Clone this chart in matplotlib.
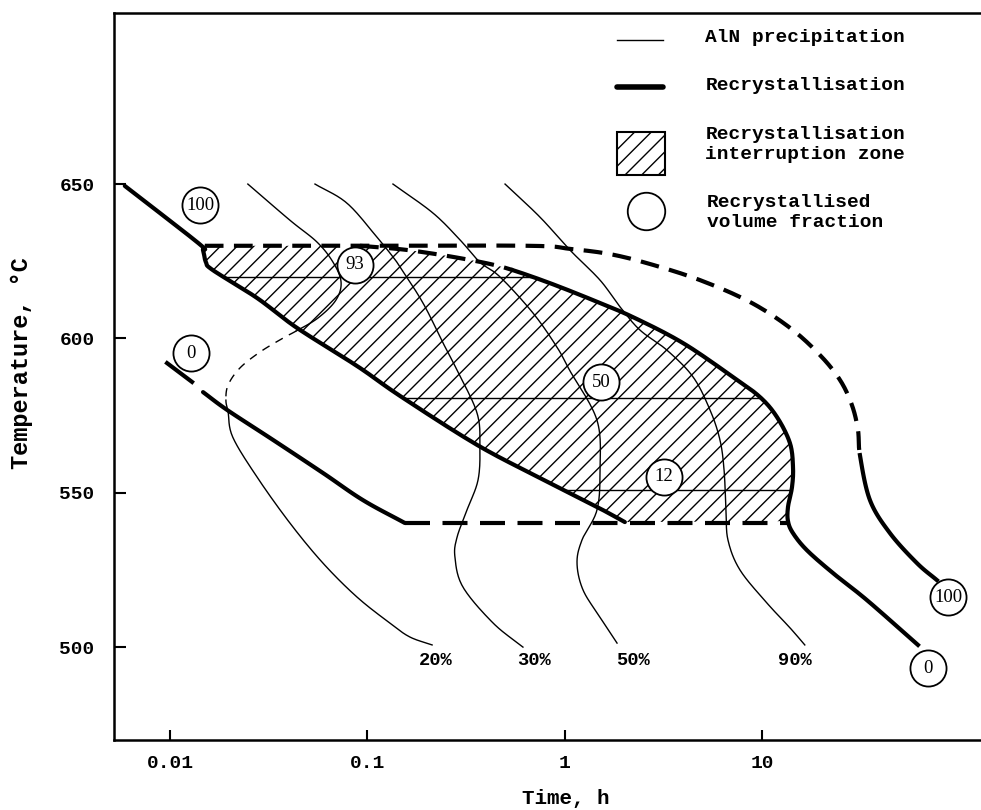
import numpy as np
import matplotlib
matplotlib.use('Agg')
import matplotlib.pyplot as plt
from matplotlib.patches import Polygon, Rectangle

plt.rcParams['hatch.linewidth'] = 1.0
plt.rcParams['font.family'] = ['Liberation Mono', 'DejaVu Sans Mono']
plt.rcParams['font.weight'] = 'bold'

# recrystallisation, upper-left solid line (100 %) down to the 540 C isotherm
rx_upper_t = [0.0059, 0.0139, 0.0147, 0.0152, 0.0165, 0.0276, 0.044, 0.089, 0.147, 0.36, 0.75, 1.46, 2.02]
rx_upper_T = [649.4, 630.9, 628.6, 624.7, 622.1, 613.1, 603.4, 591.0, 581.3, 565.5, 554.8, 545.4, 540.5]

# recrystallisation start (0 %), lower-left
rx_start_dash_t = [0.00966, 0.01293]
rx_start_dash_T = [592.0, 585.9]
rx_start_t = [0.0147, 0.0195, 0.0333, 0.0596, 0.0951, 0.155]
rx_start_T = [582.6, 576.8, 567.1, 556.4, 547.6, 540.2]

# 540 C isotherm (dashed)
iso540_t = [0.155, 13.56]
iso540_T = [540.2, 540.2]

# outer 100 % curve: 630 C dashed part, then solid tail
outer_dash_t = [0.0150, 0.1, 0.668, 1.065, 1.70, 2.71, 4.85, 8.70, 13.9, 19.7, 24.9, 28.6, 30.7, 31.4]
outer_dash_T = [630, 630, 630, 629.0, 627.3, 624.1, 618.9, 611.8, 603.4, 594.6, 586.5, 578.4, 570.3, 562.2]
outer_solid_t = [31.4, 35.3, 44.6, 61.1, 77.1]
outer_solid_T = [562.2, 547.6, 536.9, 527.2, 521.7]

# dashed branch leaving the 630 C line
branch_t = [0.0918, 0.1466, 0.208, 0.295, 0.419, 0.547]
branch_T = [630, 628.9, 627.6, 626.0, 624.1, 622.1]

# upper boundary of the interruption zone, then tail down to 0 %
bound_t = [0.547, 0.843, 1.393, 2.22, 3.98, 7.13, 9.78, 11.93, 13.87, 14.38, 14.21, 13.56, 13.56]
bound_T = [622.1, 617.9, 612.4, 606.9, 598.5, 587.5, 581.0, 574.5, 566.1, 558.3, 551.8, 545.4, 540.8]
tail_t = [13.56, 14.38, 16.9, 22.9, 34.1, 61.8]
tail_T = [540.8, 536.9, 531.4, 524.0, 515.2, 500.7]

# AlN precipitation curves
aln20_top_t = [0.0248, 0.0405, 0.0556, 0.0670, 0.0736, 0.0693, 0.0562, 0.0436]
aln20_top_T = [650, 638.3, 631.2, 624.7, 618.3, 612.4, 606.6, 602.4]
aln20_mid_t = [0.0436, 0.0374, 0.0286, 0.0226, 0.0197, 0.0192]
aln20_mid_T = [602.4, 600.1, 595.6, 590.4, 584.9, 580.0]
aln20_low_t = [0.0192, 0.0197, 0.0208, 0.0276, 0.0405, 0.0596, 0.0887, 0.130, 0.164, 0.213]
aln20_low_T = [580.0, 576.1, 568.0, 555.1, 540.2, 527.2, 516.2, 507.8, 503.3, 500.7]

aln30_t = [0.0543, 0.0789, 0.1119, 0.1349, 0.1466, 0.1914, 0.2421, 0.285, 0.360, 0.372, 0.364,
           0.320, 0.285, 0.278, 0.305, 0.434, 0.615]
aln30_T = [650, 643.8, 632.8, 626.4, 623.1, 611.5, 598.5, 589.7, 575.8, 564.8, 554.1,
           544.4, 535.6, 529.2, 519.5, 507.8, 500.0]

aln50_t = [0.1349, 0.2153, 0.2951, 0.372, 0.471, 0.692, 0.914, 1.06, 1.459, 1.511, 1.459,
           1.225, 1.156, 1.240, 1.511, 1.844]
aln50_T = [650, 640.6, 631.9, 624.7, 619.9, 608.2, 597.2, 589.7, 573.5, 557.4, 544.4,
           534.7, 527.2, 518.5, 509.7, 501.3]

aln90_t = [0.499, 0.750, 1.065, 1.511, 1.910, 2.41, 3.30, 4.48, 5.46, 6.13, 6.43, 6.58, 6.73,
           7.74, 10.6, 13.9, 16.5]
aln90_T = [650, 639.3, 628.6, 618.9, 610.2, 602.7, 596.2, 587.5, 576.8, 567.1, 557.4, 544.4, 534.7,
           525.0, 514.3, 506.2, 500.7]

pct_labels = ['20%', '30%', '50%', '90%']
pct_t = [0.223, 0.700, 2.22, 14.7]
pct_T = [495.8, 495.8, 495.8, 495.8]

# recrystallised volume fraction markers
circ_labels = ['100', '0', '93', '50', '12', '100', '0']
circ_t = [0.0142, 0.0127, 0.0868, 1.528, 3.19, 87.8, 69.7]
circ_T = [643.2, 595.2, 623.8, 585.8, 555.2, 516.2, 493.1]

# horizontal lines inside the zone
zone_levels = [620, 580.7, 551]

N = 16  # samples per segment of the drawn curve


def smooth(t, T):
    """Catmull-Rom curve through the given points, in log-time space."""
    P = np.column_stack([np.log10(t), np.asarray(T, float)])
    P = np.vstack([2 * P[0] - P[1], P, 2 * P[-1] - P[-2]])
    s = np.linspace(0, 1, N, endpoint=False)[:, None]
    out = []
    for i in range(1, len(P) - 2):
        p0, p1, p2, p3 = P[i - 1], P[i], P[i + 1], P[i + 2]
        c1 = p1 + (p2 - p0) / 6
        c2 = p2 - (p3 - p1) / 6
        out.append((1 - s) ** 3 * p1 + 3 * (1 - s) ** 2 * s * c1
                   + 3 * (1 - s) * s ** 2 * c2 + s ** 3 * p2)
    out.append(P[-2][None])
    out = np.vstack(out)
    return 10 ** out[:, 0], out[:, 1]


def split(xy, k):
    """Cut a smoothed curve at original point k."""
    x, y = xy
    i = k * N
    return (x[:i + 1], y[:i + 1]), (x[i:], y[i:])


fig = plt.figure(figsize=(9.81, 8.10), dpi=100)
ax = fig.add_axes([0.1162, 0.0864, 0.8838, 0.8975])
ax.set_xscale('log')
ax.set_xlim(0.0052, 129)
ax.set_ylim(469.9, 705.4)

thick = 3.0
thin = 1.0
dash_long = (6, 3)
dash_mid = (4.5, 2.5)

up_t, up_T = smooth(rx_upper_t, rx_upper_T)
st_t, st_T = smooth(rx_start_t, rx_start_T)
(od_t, od_T), (os_t, os_T) = split(smooth(outer_dash_t + outer_solid_t[1:],
                                          outer_dash_T + outer_solid_T[1:]),
                                   len(outer_dash_t) - 1)
(br_t, br_T), (bs_t, bs_T) = split(smooth(branch_t + bound_t[1:] + tail_t[1:],
                                          branch_T + bound_T[1:] + tail_T[1:]),
                                   len(branch_t) - 1)
(bd_t, bd_T), _ = split((bs_t, bs_T), len(bound_t) - 1)

# interruption zone
k0 = N  # start of the zone on the upper-left line (point 1)
zone_t = np.concatenate([up_t[k0:], bd_t[::-1], br_t[::-1], [up_t[k0]]])
zone_T = np.concatenate([up_T[k0:], bd_T[::-1], br_T[::-1], [630]])
zone = Polygon(np.column_stack([zone_t, zone_T]), closed=True, fill=False,
               hatch='//', lw=0, edgecolor='k', zorder=1)
ax.add_patch(zone)
for lev in zone_levels:
    ln, = ax.plot([0.005, 200], [lev, lev], color='k', lw=thin, zorder=2)
    ln.set_clip_path(zone)

# recrystallisation lines
ax.plot(up_t, up_T, color='k', lw=thick, solid_capstyle='round', zorder=3)
ax.plot(rx_start_dash_t, rx_start_dash_T, color='k', lw=thick, zorder=3)
ax.plot(st_t, st_T, color='k', lw=thick, solid_capstyle='round', zorder=3)
ax.plot(iso540_t, iso540_T, color='k', lw=thick, dashes=dash_long, zorder=3)
ax.plot(od_t, od_T, color='k', lw=thick, dashes=dash_mid, zorder=3)
ax.plot(os_t, os_T, color='k', lw=thick, zorder=3)
ax.plot(br_t, br_T, color='k', lw=thick, dashes=dash_mid, zorder=3)
ax.plot(bs_t, bs_T, color='k', lw=thick, zorder=3)

# AlN precipitation
a20 = smooth(aln20_top_t + aln20_mid_t[1:] + aln20_low_t[1:],
             aln20_top_T + aln20_mid_T[1:] + aln20_low_T[1:])
(a20_top, rest) = split(a20, len(aln20_top_t) - 1)
(a20_mid, a20_low) = split(rest, len(aln20_mid_t) - 1)
ax.plot(*a20_top, color='k', lw=thin, zorder=2)
ax.plot(*a20_mid, color='k', lw=thin, dashes=(6, 5), zorder=2)
ax.plot(*a20_low, color='k', lw=thin, zorder=2)
for t, T in [(aln30_t, aln30_T), (aln50_t, aln50_T), (aln90_t, aln90_T)]:
    ax.plot(*smooth(t, T), color='k', lw=thin, zorder=2)
for lab, t, T in zip(pct_labels, pct_t, pct_T):
    ax.text(t, T, lab, ha='center', va='center', fontsize=13.5)

ax.plot(circ_t, circ_T, 'o', ms=26, mfc='white', mec='k', mew=1.3, zorder=5)
for lab, t, T in zip(circ_labels, circ_t, circ_T):
    ax.text(t, T, lab, ha='center', va='center', fontsize=13.5, family='Liberation Serif',
            fontweight='normal', zorder=6)

# legend
tr = ax.transAxes
ax.plot([0.580, 0.633], [0.963, 0.963], color='k', lw=thin, transform=tr)
ax.plot([0.580, 0.633], [0.898, 0.898], color='k', lw=4, solid_capstyle='round', transform=tr)
ax.add_patch(Rectangle((0.580, 0.777), 0.055, 0.059, transform=tr, fill=False,
                       hatch='//', lw=1.5, edgecolor='k'))
ax.plot([0.614], [0.728], 'o', ms=27, mfc='white', mec='k', mew=1.3, transform=tr, clip_on=False)
ax.text(0.682, 0.966, 'AlN precipitation', transform=tr, va='center', fontsize=14)
ax.text(0.682, 0.901, 'Recrystallisation', transform=tr, va='center', fontsize=14)
ax.text(0.682, 0.819, 'Recrystallisation\ninterruption zone', transform=tr, va='center', fontsize=14)
ax.text(0.684, 0.726, 'Recrystallised\nvolume fraction', transform=tr, va='center', fontsize=14)

# axes
ax.spines['right'].set_visible(False)
for s in ['left', 'top', 'bottom']:
    ax.spines[s].set_linewidth(1.8)
ax.set_xticks([0.01, 0.1, 1, 10])
ax.set_xticklabels(['0.01', '0.1', '1', '10'])
ax.xaxis.set_minor_locator(matplotlib.ticker.NullLocator())
ax.set_yticks([500, 550, 600, 650])
ax.tick_params(axis='x', direction='in', length=7, width=1.5, pad=11, labelsize=14)
ax.tick_params(axis='y', direction='in', length=8.5, width=1.5, pad=14, labelsize=14)
ax.tick_params(top=False, right=False)

fig.text(566 / 981, 1 - 799 / 810, 'Time, h', ha='center', va='center', fontsize=15)
fig.text(22 / 981, 1 - 363 / 810, 'Temperature, \u00b0C', ha='center', va='center',
         rotation=90, fontsize=17)

fig.savefig('out.png', dpi=100)
